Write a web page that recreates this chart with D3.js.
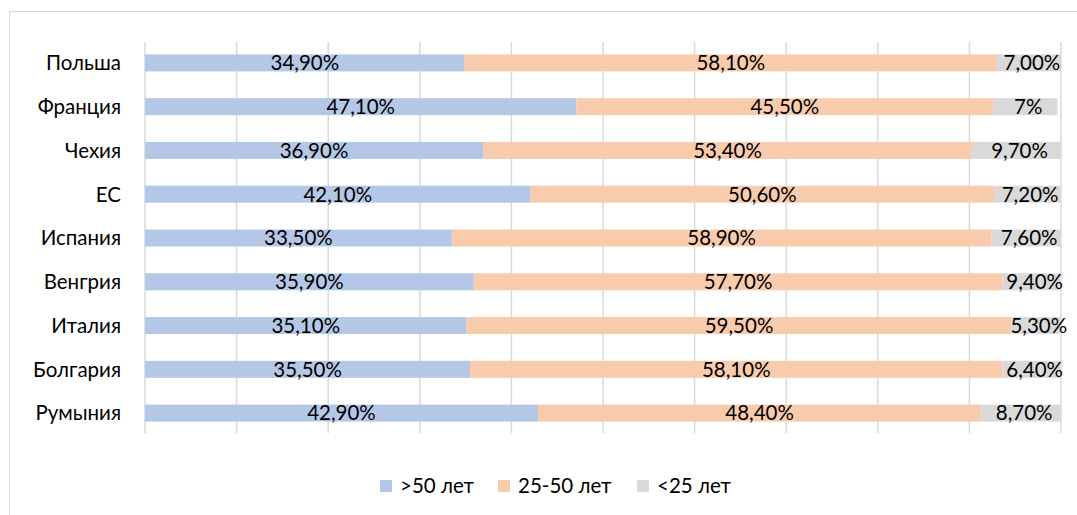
<!DOCTYPE html>
<html><head><meta charset="utf-8">
<script src="https://cdn.jsdelivr.net/npm/d3@7"></script>
<style>body{margin:0;background:#fff}svg{display:block}text{font-family:Lato,"Open Sans",sans-serif}</style>
</head><body><svg id="c" width="1077" height="515"></svg>
<script>
const categories = ["Польша","Франция","Чехия","ЕС","Испания","Венгрия","Италия","Болгария","Румыния"];
const seriesNames = [">50 лет","25-50 лет","<25 лет"];
const over50 = [34.9,47.1,36.9,42.1,33.5,35.9,35.1,35.5,42.9];
const mid = [58.1,45.5,53.4,50.6,58.9,57.7,59.5,58.1,48.4];
const under25 = [7.0,7.0,9.7,7.2,7.6,9.4,5.3,6.4,8.7];
const labels = [
  ["34,90%","47,10%","36,90%","42,10%","33,50%","35,90%","35,10%","35,50%","42,90%"],
  ["58,10%","45,50%","53,40%","50,60%","58,90%","57,70%","59,50%","58,10%","48,40%"],
  ["7,00%","7%","9,70%","7,20%","7,60%","9,40%","5,30%","6,40%","8,70%"]
];
const colors = ["#B4C7E7","#F8CBAD","#D9D9D9"];
const ticks = [0,10,20,30,40,50,60,70,80,90,100];

const svg = d3.select("#c");
svg.append("rect").attr("x",9.5).attr("y",11.5).attr("width",1090).attr("height",520)
  .attr("fill","none").attr("stroke","#D9D9D9");

const x = d3.scaleLinear().domain([0,100]).range([145,1061]);
const y = d3.scaleBand().domain(categories).range([41,435]).padding(0);
const barH = 17;
const fs = 20.5;

svg.append("g").selectAll("line").data(ticks).join("line")
  .attr("x1",d=>x(d)).attr("x2",d=>x(d)).attr("y1",42).attr("y2",433)
  .attr("stroke","#D9D9D9").attr("stroke-width",1.5);

const data = categories.map((c,i)=>({cat:c, v:[over50[i],mid[i],under25[i]], i}));
const segs = [];
data.forEach(d=>{
  let acc=0;
  d.v.forEach((v,k)=>{
    const s=Math.min(acc,100), e=Math.min(acc+v,100);
    segs.push({cat:d.cat,k,s,e,label:labels[k][d.i]});
    acc+=v;
  });
});
svg.append("g").selectAll("rect").data(segs).join("rect")
  .attr("x",d=>x(d.s)).attr("width",d=>x(d.e)-x(d.s))
  .attr("y",d=>y(d.cat)+(y.bandwidth()-barH)/2).attr("height",barH)
  .attr("fill",d=>colors[d.k]);
svg.append("g").selectAll("text").data(segs).join("text")
  .attr("x",d=>(x(d.s)+x(d.e))/2+(d.k===2?3:0))
  .attr("y",d=>y(d.cat)+y.bandwidth()/2)
  .attr("dy","0.36em").attr("text-anchor","middle")
  .attr("font-size",fs).attr("fill","#000").text(d=>d.label);

svg.append("g").selectAll("text").data(categories).join("text")
  .attr("x",121).attr("y",d=>y(d)+y.bandwidth()/2).attr("dy","0.36em")
  .attr("text-anchor","end").attr("font-size",fs).attr("fill","#000").text(d=>d);

const legX=[380,498,637];
const lg = svg.append("g").selectAll("g").data(seriesNames).join("g")
  .attr("transform",(d,i)=>`translate(${legX[i]},486)`);
lg.append("rect").attr("x",0).attr("y",-6).attr("width",12).attr("height",12).attr("fill",(d,i)=>colors[i]);
lg.append("text").attr("x",20).attr("dy","0.36em").attr("font-size",fs).attr("fill","#000").text(d=>d);
</script></body></html>
